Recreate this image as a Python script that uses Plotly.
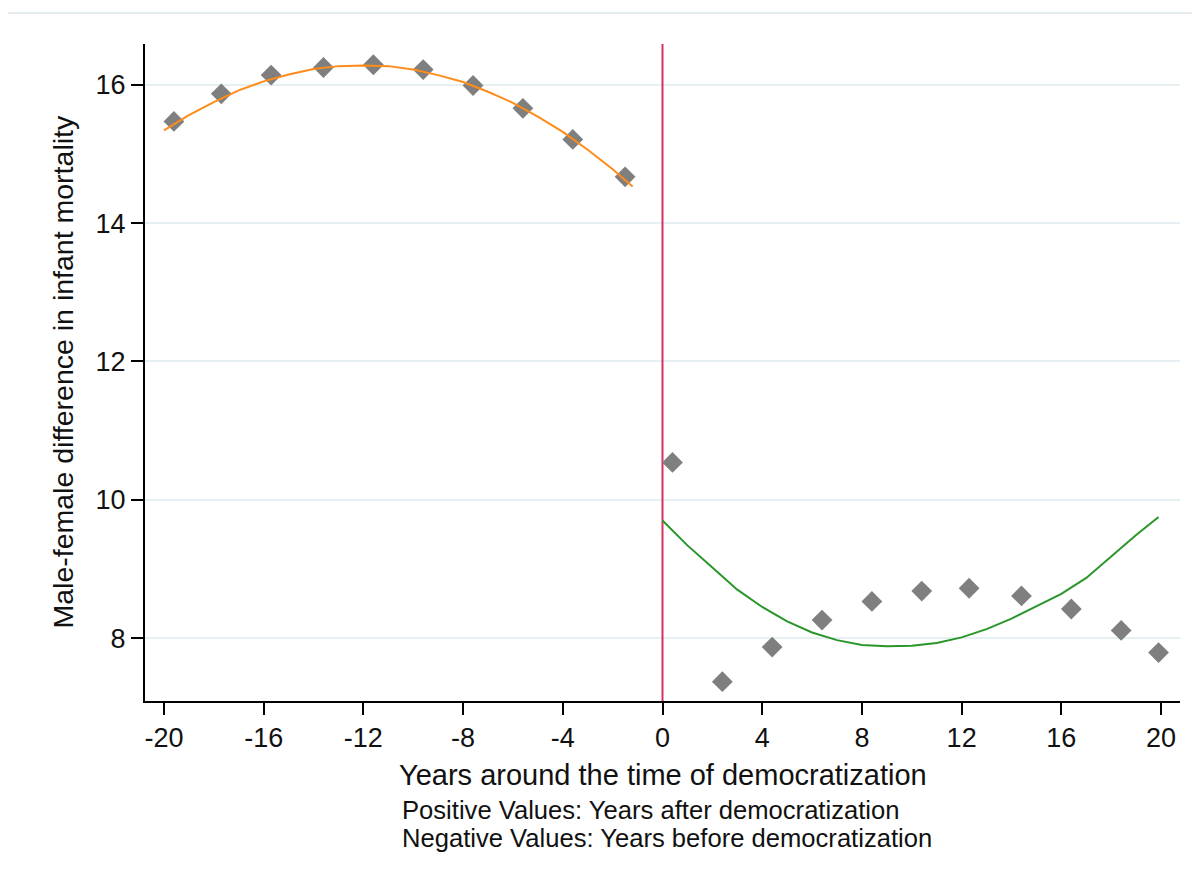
import plotly.graph_objects as go

# ---- data ----
before_x = [-19.6, -17.7, -15.7, -13.6, -11.6, -9.6, -7.6, -5.6, -3.6, -1.5]
before_y = [15.47, 15.87, 16.14, 16.25, 16.29, 16.22, 15.99, 15.66, 15.21, 14.67]

after_x = [0.4, 2.4, 4.4, 6.4, 8.4, 10.4, 12.3, 14.4, 16.4, 18.4, 19.9]
after_y = [10.54, 7.37, 7.87, 8.26, 8.53, 8.68, 8.72, 8.61, 8.42, 8.11, 7.79]

fit_before_x = [-20, -19, -18, -17, -16, -15, -14, -13, -12, -11, -10,
                -9, -8, -7, -6, -5, -4, -3, -2, -1.2]
fit_before_y = [15.34, 15.56, 15.75, 15.92, 16.05, 16.15, 16.23, 16.27, 16.28, 16.27, 16.22,
                16.14, 16.04, 15.90, 15.74, 15.54, 15.32, 15.06, 14.78, 14.53]

fit_after_x = [0, 1, 2, 3, 4, 5, 6, 7, 8, 9, 10,
               11, 12, 13, 14, 15, 16, 17, 18, 19, 19.9]
fit_after_y = [9.70, 9.34, 9.02, 8.70, 8.45, 8.24, 8.08, 7.97, 7.90, 7.88, 7.89,
               7.93, 8.01, 8.13, 8.28, 8.46, 8.64, 8.87, 9.18, 9.49, 9.75]

x_ticks = [-20, -16, -12, -8, -4, 0, 4, 8, 12, 16, 20]
y_ticks = [8, 10, 12, 14, 16]
x_range = [-20.76, 20.76]
y_range = [7.09, 16.59]
cutoff = 0

FONT = "Liberation Sans, Arial, sans-serif"
TXT = "#111111"

fig = go.Figure()

# vertical cutoff line
fig.add_trace(go.Scatter(x=[cutoff, cutoff], y=y_range, mode="lines",
                         line=dict(color="#D3335E", width=2), hoverinfo="skip",
                         showlegend=False))

fig.add_trace(go.Scatter(x=before_x, y=before_y, mode="markers",
                         marker=dict(symbol="diamond", size=16, color="#7F7F7F"),
                         showlegend=False))
fig.add_trace(go.Scatter(x=after_x, y=after_y, mode="markers",
                         marker=dict(symbol="diamond", size=16, color="#7F7F7F"),
                         showlegend=False))

fig.add_trace(go.Scatter(x=fit_before_x, y=fit_before_y, mode="lines",
                         line=dict(color="#FF8C1A", width=2), showlegend=False))
fig.add_trace(go.Scatter(x=fit_after_x, y=fit_after_y, mode="lines",
                         line=dict(color="#2A962A", width=2), showlegend=False))

# the page body has an 8px margin, so the figure is 8px smaller on each axis
fig.update_layout(
    width=1192, height=876,
    margin=dict(l=137, r=20, t=36, b=183),
    paper_bgcolor="white", plot_bgcolor="white",
    font=dict(family=FONT, color=TXT, size=27),
    showlegend=False,
)

fig.update_xaxes(
    range=x_range, tickmode="array", tickvals=x_ticks,
    ticktext=[str(v) for v in x_ticks],
    showgrid=False, zeroline=False,
    showline=True, linecolor="black", linewidth=2,
    ticks="outside", ticklen=12, tickwidth=2, tickcolor="black",
    tickfont=dict(size=27, family=FONT, color=TXT),
)
fig.update_yaxes(
    range=y_range, tickmode="array", tickvals=y_ticks,
    ticktext=[str(v) for v in y_ticks],
    showgrid=True, gridcolor="#E6EFF2", gridwidth=2, zeroline=False,
    showline=True, linecolor="black", linewidth=2,
    ticks="outside", ticklen=12, tickwidth=2, tickcolor="black",
    tickfont=dict(size=27, family=FONT, color=TXT),
)

# top frame line of the graph region
fig.add_shape(type="line", xref="paper", yref="paper",
              x0=-0.133, x1=1.02, y0=(701 - 13) / 657, y1=(701 - 13) / 657,
              line=dict(color="#E3ECEF", width=2))

fig.add_annotation(text="Years around the time of democratization",
                   xref="paper", yref="paper", x=0.5, y=(701 - 775) / 657,
                   xanchor="center", yanchor="middle", showarrow=False,
                   font=dict(size=29, family=FONT, color=TXT))
fig.add_annotation(text="Positive Values: Years after democratization",
                   xref="paper", yref="paper", x=(400 - 145) / 1035, y=(701 - 810) / 657,
                   xanchor="left", yanchor="middle", showarrow=False,
                   font=dict(size=25.6, family=FONT, color=TXT))
fig.add_annotation(text="Negative Values: Years before democratization",
                   xref="paper", yref="paper", x=(400 - 145) / 1035, y=(701 - 838) / 657,
                   xanchor="left", yanchor="middle", showarrow=False,
                   font=dict(size=25.6, family=FONT, color=TXT))
fig.add_annotation(text="Male-female difference in infant mortality",
                   xref="paper", yref="paper", x=(62 - 145) / 1035, y=0.5,
                   xanchor="center", yanchor="middle", textangle=-90, showarrow=False,
                   font=dict(size=28.5, family=FONT, color=TXT))

fig.write_html("out.html")
